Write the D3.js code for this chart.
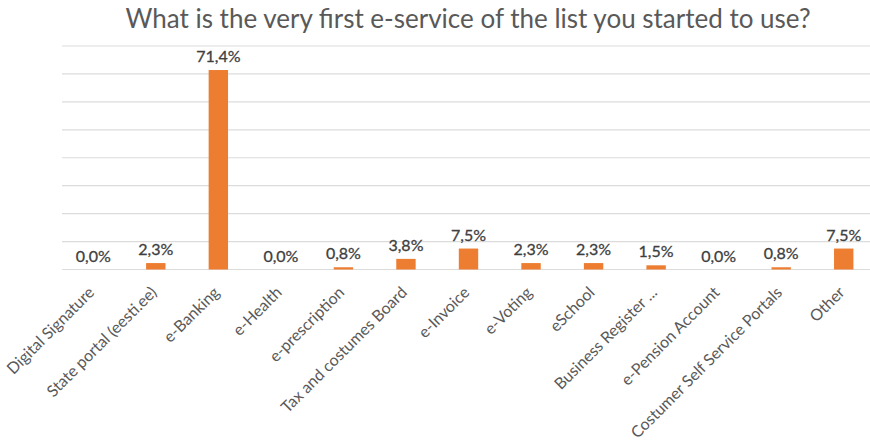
<!DOCTYPE html>
<html>
<head>
<meta charset="utf-8">
<script src="https://cdn.jsdelivr.net/npm/d3@7/dist/d3.min.js"></script>
<style>
  html, body { margin: 0; padding: 0; background: #fff; }
  svg { display: block; }
</style>
</head>
<body>
<svg id="chart" width="870" height="447"></svg>
<script>
// Survey answers: first e-service respondents started to use (share, %)
const categories = [
  "Digital Signature", "State portal (eesti.ee)", "e-Banking", "e-Health",
  "e-prescription", "Tax and costumes Board", "e-Invoice", "e-Voting",
  "eSchool", "Business Register ...", "e-Pension Account",
  "Costumer Self Service Portals", "Other"
];
const shares = [0.0, 2.3, 71.4, 0.0, 0.8, 3.8, 7.5, 2.3, 2.3, 1.5, 0.0, 0.8, 7.5];
const gridTicks = [0, 10, 20, 30, 40, 50, 60, 70, 80];
const titleText = "What is the very first e-service of the list you started to use?";

const svg = d3.select("#chart");
const margin = { left: 62, right: -5, top: 46, baseline: 269.5 };

const x = d3.scaleBand()
  .domain(categories)
  .range([margin.left, 870 - margin.right])
  .paddingInner(0.69)
  .paddingOuter(0.345);

const y = d3.scaleLinear()
  .domain([0, 80])
  .range([margin.baseline, margin.top]);

// horizontal gridlines
svg.append("g")
  .selectAll("line")
  .data(gridTicks)
  .join("line")
  .attr("x1", margin.left)
  .attr("x2", 870)
  .attr("y1", d => y(d))
  .attr("y2", d => y(d))
  .attr("stroke", "#dcdcdc")
  .attr("stroke-width", 1.2);

// bars
svg.append("g")
  .selectAll("rect")
  .data(shares)
  .join("rect")
  .attr("x", (d, i) => x(categories[i]))
  .attr("width", x.bandwidth())
  .attr("y", d => y(d))
  .attr("height", d => y(0) - y(d))
  .attr("fill", "#ED7D31");

// value labels
const fmt = v => v.toFixed(1).replace(".", ",") + "%";
svg.append("g")
  .selectAll("text")
  .data(shares)
  .join("text")
  .attr("x", (d, i) => x(categories[i]) + x.bandwidth() / 2)
  .attr("y", d => y(d) - 8)
  .attr("text-anchor", "middle")
  .attr("font-family", "Lato, sans-serif")
  .attr("font-size", 16)
  .attr("fill", "#404040")
  .attr("stroke", "#404040")
  .attr("stroke-width", 0.3)
  .text(fmt);

// category axis with rotated labels
const xAxis = d3.axisBottom(x).tickSize(0).tickPadding(0);
const gx = svg.append("g")
  .attr("transform", `translate(0,${margin.baseline})`)
  .call(xAxis);
gx.select(".domain").remove();
gx.selectAll("text")
  .attr("font-family", "Lato, sans-serif")
  .attr("font-size", 16)
  .attr("fill", "#595959")
  .attr("text-anchor", "end")
  .attr("dy", null)
  .attr("y", 0)
  .attr("transform", "translate(2,24) rotate(-45)");

// title
svg.append("text")
  .attr("x", 468)
  .attr("y", 28)
  .attr("text-anchor", "middle")
  .attr("font-family", "Lato, sans-serif")
  .attr("font-size", 26)
  .attr("fill", "#595959")
  .text(titleText);
</script>
</body>
</html>
